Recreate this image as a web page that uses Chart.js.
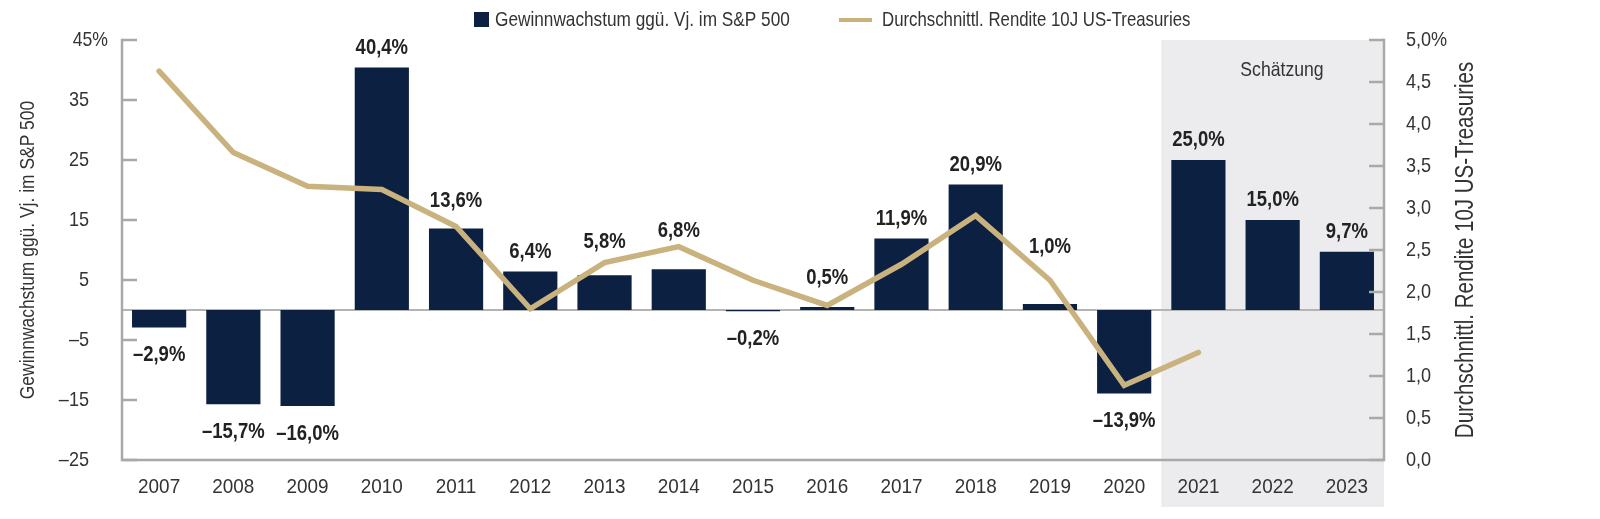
<!DOCTYPE html>
<html><head><meta charset="utf-8">
<script src="https://cdn.jsdelivr.net/npm/chart.js@4.4.1/dist/chart.umd.min.js"></script>
<style>html,body{margin:0;padding:0;background:#fff}canvas{display:block}</style>
</head><body>
<canvas id="c" width="1600" height="519"></canvas>
<script>
const years = ['2007','2008','2009','2010','2011','2012','2013','2014','2015','2016','2017','2018','2019','2020','2021','2022','2023'];
const earningsGrowth = [-2.9,-15.7,-16.0,40.4,13.6,6.4,5.8,6.8,-0.2,0.5,11.9,20.9,1.0,-13.9,25.0,15.0,9.7];
const treasuryYield = [4.63,3.66,3.26,3.22,2.78,1.80,2.35,2.54,2.14,1.84,2.33,2.91,2.14,0.89,1.28,null,null];
const leftTicks = [-25,-15,-5,5,15,25,35,45];
const rightTicks = [0,0.5,1,1.5,2,2.5,3,3.5,4,4.5,5];
const estimateYears = ['2021','2022','2023'];
const barLabel = 'Gewinnwachstum ggü. Vj. im S&P 500';
const lineLabel = 'Durchschnittl. Rendite 10J US-Treasuries';
const estimateLabel = 'Schätzung';

const NAVY = '#0c2142';
const TAN = '#c9b27d';
const AXIS = '#a9a9a9';
const TXT = '#333333';
const SHADE = '#ececee';
const FONT = '"Liberation Sans", Arimo, Arial, sans-serif';

function fmt(v, dec) { return v.toFixed(dec).replace('.', ','); }

// draw text horizontally condensed by sx to mimic a narrow typeface
function txt(ctx, s, x, y, align, sx, rot) {
  ctx.save();
  ctx.translate(x, y);
  if (rot) ctx.rotate(rot);
  ctx.scale(sx, 1);
  ctx.textAlign = align;
  ctx.fillText(s, 0, 0);
  ctx.restore();
}

function lineYAt(chart, x) {
  const meta = chart.getDatasetMeta(1);
  const pts = meta.data.filter((p, i) => treasuryYield[i] !== null);
  let best = null;
  for (let i = 0; i < pts.length - 1; i++) {
    const a = pts[i], b = pts[i + 1];
    if (x >= a.x && x <= b.x) best = a.y + (b.y - a.y) * (x - a.x) / (b.x - a.x);
  }
  return best;
}

const decor = {
  id: 'decor',
  beforeDatasetsDraw(chart) {
    const {ctx, chartArea: ca, scales} = chart;
    const x = scales.x, y = scales.y;
    const first = years.indexOf(estimateYears[0]);
    const x0 = (x.getPixelForValue(first - 1) + x.getPixelForValue(first)) / 2;
    ctx.save();
    ctx.fillStyle = SHADE;
    ctx.fillRect(x0, ca.top, ca.right - x0, 507 - ca.top);
    ctx.strokeStyle = '#b4b4b4';
    ctx.lineWidth = 2;
    ctx.beginPath();
    ctx.moveTo(ca.left, y.getPixelForValue(0));
    ctx.lineTo(ca.right, y.getPixelForValue(0));
    ctx.stroke();
    ctx.restore();
  },
  afterDatasetsDraw(chart) {
    const {ctx, chartArea: ca, scales} = chart;
    const x = scales.x, y = scales.y, y1 = scales.y1;
    ctx.save();
    ctx.strokeStyle = AXIS;
    ctx.lineWidth = 2.5;
    ctx.beginPath();
    ctx.moveTo(ca.left, ca.top - 1.25);
    ctx.lineTo(ca.left, ca.bottom);
    ctx.lineTo(ca.right, ca.bottom);
    ctx.lineTo(ca.right, ca.top - 1.25);
    ctx.stroke();
    ctx.beginPath();
    leftTicks.forEach(v => {
      const py = y.getPixelForValue(v);
      ctx.moveTo(ca.left, py); ctx.lineTo(ca.left + 15, py);
    });
    rightTicks.forEach(v => {
      const py = y1.getPixelForValue(v);
      ctx.moveTo(ca.right - 15, py); ctx.lineTo(ca.right, py);
    });
    ctx.stroke();

    ctx.fillStyle = TXT;
    ctx.font = '21px ' + FONT;
    ctx.textBaseline = 'middle';
    const topL = leftTicks[leftTicks.length - 1];
    leftTicks.forEach(v => {
      const py = y.getPixelForValue(v);
      if (v === topL) { txt(ctx, v + '%', 108, py, 'right', 0.84); return; }
      const s = v < 0 ? '\u2013' + Math.abs(v) : String(v);
      txt(ctx, s, 89, py, 'right', 0.86);
    });
    const topR = rightTicks[rightTicks.length - 1];
    rightTicks.forEach(v => {
      const py = y1.getPixelForValue(v);
      txt(ctx, fmt(v, 1) + (v === topR ? '%' : ''), ca.right + 22, py, 'left', 0.86);
    });
    years.forEach((yr, i) => txt(ctx, yr, x.getPixelForValue(i), 487, 'center', 0.9));

    ctx.font = '21px ' + FONT;
    txt(ctx, barLabel, 28, (ca.top + ca.bottom) / 2, 'center', 0.83, -Math.PI / 2);
    ctx.font = '25px ' + FONT;
    txt(ctx, lineLabel, 1466, (ca.top + ca.bottom) / 2, 'center', 0.82, -Math.PI / 2);

    ctx.font = '21px ' + FONT;
    txt(ctx, estimateLabel, 1282, 70, 'center', 0.84);

    // legend
    ctx.fillStyle = NAVY;
    ctx.fillRect(474, 12, 15, 15);
    ctx.strokeStyle = TAN;
    ctx.lineWidth = 4;
    ctx.beginPath(); ctx.moveTo(839, 20); ctx.lineTo(872, 20); ctx.stroke();
    ctx.fillStyle = TXT;
    ctx.font = '21px ' + FONT;
    txt(ctx, barLabel, 495, 20, 'left', 0.82);
    txt(ctx, lineLabel, 882, 20, 'left', 0.8);

    // data labels
    const bars = chart.getDatasetMeta(0).data;
    ctx.font = 'bold 22px ' + FONT;
    ctx.fillStyle = '#222222';
    ctx.textBaseline = 'alphabetic';
    earningsGrowth.forEach((v, i) => {
      const b = bars[i];
      const s = (v < 0 ? '\u2013' : '') + fmt(Math.abs(v), 1) + '%';
      let by;
      if (v >= 0) {
        by = b.y - 14;
        [-20, 0, 20].forEach(dx => {
          const ly = lineYAt(chart, b.x + dx);
          if (ly !== null) by = Math.min(by, ly - 10);
        });
      } else {
        by = b.y + 34;
      }
      txt(ctx, s, b.x, by, 'center', 0.84);
    });
    ctx.restore();
  }
};

new Chart(document.getElementById('c'), {
  data: {
    labels: years,
    datasets: [
      { type: 'bar', label: barLabel, data: earningsGrowth, yAxisID: 'y', backgroundColor: NAVY,
        barPercentage: 0.73, categoryPercentage: 1, order: 2 },
      { type: 'line', label: lineLabel, data: treasuryYield, yAxisID: 'y1', borderColor: TAN,
        borderWidth: 5.5, pointRadius: 0, tension: 0, borderCapStyle: 'round', spanGaps: false, order: 1 }
    ]
  },
  options: {
    responsive: false,
    animation: false,
    devicePixelRatio: 1,
    layout: { padding: { left: 122, right: 216, top: 40, bottom: 59 } },
    scales: {
      x: { type: 'category', display: false, offset: true },
      y: { type: 'linear', display: false, min: -25, max: 45 },
      y1: { type: 'linear', display: false, min: 0, max: 5, position: 'right' }
    },
    plugins: { legend: { display: false }, tooltip: { enabled: false } }
  },
  plugins: [decor]
});
</script>
</body></html>
